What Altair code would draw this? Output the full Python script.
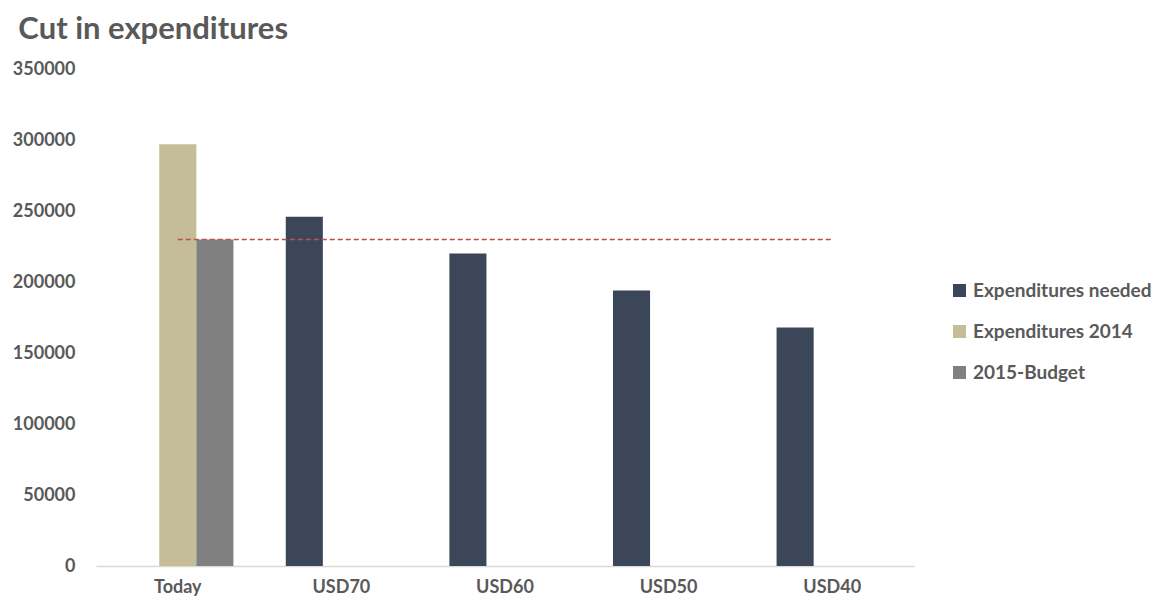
import altair as alt
import pandas as pd

categories = ["Today", "USD70", "USD60", "USD50", "USD40"]
series_names = ["Expenditures needed", "Expenditures 2014", "2015-Budget"]
needed = [None, 246000, 220000, 194000, 168000]
exp_2014 = [297000, None, None, None, None]
budget_2015 = [230000, None, None, None, None]
reference_line = [230000, 230000, 230000, 230000, 230000]
colors = ["#3B4759", "#C4BD97", "#808080"]

rows = []
for name, vals in zip(series_names, [needed, exp_2014, budget_2015]):
    for c, v in zip(categories, vals):
        if v is not None:
            rows.append({"category": c, "series": name, "value": v})
bars_df = pd.DataFrame(rows)
line_df = pd.DataFrame({"category": categories, "value": reference_line})

FONT = "Lato"
TXT = "#595959"

x_enc = alt.X("category:N", sort=categories, title=None,
              scale=alt.Scale(paddingInner=0.32, paddingOuter=0.16),
              axis=alt.Axis(labelAngle=0, ticks=False, domainColor="#D9D9D9",
                            domainWidth=1.5, labelPadding=12, labelFontSize=18,
                            labelFontWeight="bold", labelColor=TXT, labelFont=FONT))
y_scale = alt.Scale(domain=[0, 350000], nice=False)

bars = alt.Chart(bars_df).mark_bar().encode(
    x=x_enc,
    xOffset=alt.XOffset("series:N", sort=series_names,
                        scale=alt.Scale(domain=series_names, paddingInner=0, paddingOuter=0)),
    y=alt.Y("value:Q", scale=y_scale, title=None,
            axis=alt.Axis(values=[0, 50000, 100000, 150000, 200000, 250000, 300000, 350000],
                          format="d", grid=False, domain=False, ticks=False,
                          labelPadding=21, labelFontSize=18, labelFontWeight="bold",
                          labelColor=TXT, labelFont=FONT)),
    color=alt.Color("series:N", sort=series_names,
                    scale=alt.Scale(domain=series_names, range=colors),
                    legend=alt.Legend(title=None, orient="none", legendX=854, legendY=212,
                                      symbolType="square", symbolSize=170, symbolStrokeWidth=0,
                                      labelFontSize=19, labelFontWeight="bold", labelColor=TXT,
                                      labelFont=FONT, rowPadding=21, labelOffset=4,
                                      labelLimit=300)),
)

line = alt.Chart(line_df).mark_line(color="#C0504D", strokeWidth=1.5, strokeDash=[5, 3]).encode(
    x=alt.X("category:N", sort=categories),
    y=alt.Y("value:Q", scale=y_scale),
)

chart = alt.layer(bars, line).properties(
    width=818,
    height=497,
    autosize=alt.AutoSizeParams(type="none"),
    padding={"left": 88, "top": 61, "right": 240, "bottom": 30},
    title=alt.TitleParams("Cut in expenditures", anchor="start", frame="bounds",
                          offset=14, dx=6, fontSize=31, fontWeight="bold",
                          color=TXT, font=FONT),
).configure_view(stroke=None)

chart.save("out.html", embed_options={"renderer": "svg", "actions": False})
